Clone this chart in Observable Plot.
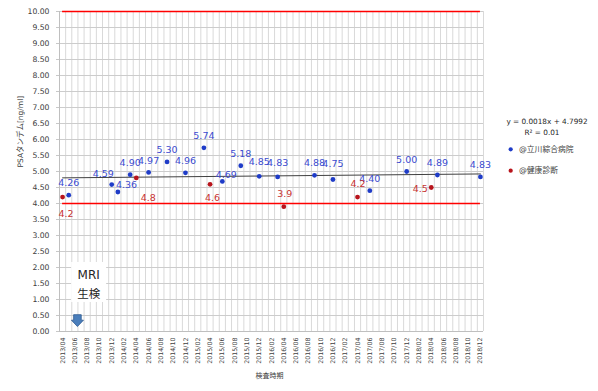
<!DOCTYPE html>
<html><head><meta charset="utf-8">
<script src="https://cdn.jsdelivr.net/npm/d3@7"></script>
<script src="https://cdn.jsdelivr.net/npm/@observablehq/plot@0.6"></script>
<style>
html,body{margin:0;padding:0;background:#fff;}
#chart{width:598px;height:391px;}
</style></head><body><div id="chart"></div>
<script>
// ---- data ----
const months = [
  "2013/04","2013/05","2013/06","2013/07","2013/08","2013/09","2013/10","2013/11","2013/12",
  "2014/01","2014/02","2014/03","2014/04","2014/05","2014/06","2014/07","2014/08","2014/09","2014/10","2014/11","2014/12",
  "2015/01","2015/02","2015/03","2015/04","2015/05","2015/06","2015/07","2015/08","2015/09","2015/10","2015/11","2015/12",
  "2016/01","2016/02","2016/03","2016/04","2016/05","2016/06","2016/07","2016/08","2016/09","2016/10","2016/11","2016/12",
  "2017/01","2017/02","2017/03","2017/04","2017/05","2017/06","2017/07","2017/08","2017/09","2017/10","2017/11","2017/12",
  "2018/01","2018/02","2018/03","2018/04","2018/05","2018/06","2018/07","2018/08","2018/09","2018/10","2018/11","2018/12"
];
const tickLabels = [
  "2013/04","2013/06","2013/08","2013/10","2013/12","2014/02","2014/04","2014/06","2014/08","2014/10","2014/12",
  "2015/02","2015/04","2015/06","2015/08","2015/10","2015/12","2016/02","2016/04","2016/06","2016/08","2016/10","2016/12",
  "2017/02","2017/04","2017/06","2017/08","2017/10","2017/12","2018/02","2018/04","2018/06","2018/08","2018/10","2018/12"
];
const yTicks = [0,0.5,1,1.5,2,2.5,3,3.5,4,4.5,5,5.5,6,6.5,7,7.5,8,8.5,9,9.5,10];

const seriesNames = ["@立川綜合病院", "@健康診断"];
const blueMonths = ["2013/05","2013/12","2014/01","2014/03","2014/06","2014/09","2014/12","2015/03","2015/06","2015/09","2015/12","2016/03","2016/09","2016/12","2017/06","2017/12","2018/05","2018/12"];
const blueValues = [4.26,4.59,4.36,4.90,4.97,5.30,4.96,5.74,4.69,5.18,4.85,4.83,4.88,4.75,4.40,5.00,4.89,4.83];
const redMonths = ["2013/04","2014/04","2015/04","2016/04","2017/04","2018/04"];
const redValues = [4.2,4.8,4.6,3.9,4.2,4.5];

const limitLines = [4, 10];
const trendSlope = 0.0018, trendIntercept = 4.7992;
const trendText = ["y = 0.0018x + 4.7992", "R² = 0.01"];
const yTitle = "PSAタンデム[ng/ml]";
const xTitle = "検査時期";
const noteLines = ["MRI", "生検"];
const noteMonth = "2013/08", noteValue = 1.5;
const arrowMonth = "2013/06", arrowTop = 0.51, arrowTip = 0.14;

// ---- styles ----
const BLUE_DOT = "#1f3cc8", BLUE_TXT = "#3b4bd0";
const RED_DOT = "#b8141c", RED_TXT = "#c83232";
const FONT = "'DejaVu Sans', 'Noto Sans CJK JP', sans-serif";
const blueNudge = {"2013/12":[-8.5,-11],"2014/01":[8.7,-7],"2015/06":[4,-6.5],"2016/12":[0,-16],"2015/12":[0,-14],"2016/03":[0,-14]};
const redNudge = {"2013/04":[3.5,17],"2014/04":[12,20],"2015/04":[2.5,14],"2016/04":[1,-13],"2017/04":[0.5,-13],"2018/04":[-11,1]};

const idx = m => months.indexOf(m) + 1;
const blue = blueMonths.map((m,i)=>({m, x: idx(m), v: blueValues[i]}));
const red = redMonths.map((m,i)=>({m, x: idx(m), v: redValues[i]}));
const boundaries = months.map((m,i)=>i+0.5).concat([months.length+0.5]);
const trendX = [1, months.length];

const blueLabels = blue.map(d => {
  const [dx, dy] = blueNudge[d.m] || [0, -12];
  return Plot.text([d], {x:"x", y:"v", text: d=>d.v.toFixed(2), dx, dy, fill: BLUE_TXT, fontSize: 9.5});
});
const redLabels = red.map(d => {
  const [dx, dy] = redNudge[d.m] || [0, 14];
  return Plot.text([d], {x:"x", y:"v", text: d=>String(d.v), dx, dy, fill: RED_TXT, fontSize: 9.5});
});

function noteMark(index, scales) {
  const g = d3.create("svg:g").attr("font-family", FONT);
  const cx = scales.x(idx(noteMonth)) + 2, cy = scales.y(noteValue);
  g.append("rect").attr("x", cx-17.5).attr("y", cy-21).attr("width", 35).attr("height", 40).attr("fill", "white");
  g.append("text").attr("x", cx).attr("y", cy-8).attr("text-anchor","middle").attr("dominant-baseline","central")
    .attr("font-size", 12).attr("fill", "#262626").text(noteLines[0]);
  g.append("text").attr("x", cx).attr("y", cy+11).attr("text-anchor","middle").attr("dominant-baseline","central")
    .attr("font-size", 11.5).attr("fill", "#262626").text(noteLines[1]);
  const ax = scales.x(idx(arrowMonth) + 0.5), y0 = scales.y(arrowTop), y1 = scales.y(arrowTip);
  const sw = 3.8, hw = 6, hy = y0 + 5.5;
  const p = `M${ax-sw},${y0}L${ax+sw},${y0}L${ax+sw},${hy}L${ax+hw},${hy}L${ax},${y1}L${ax-hw},${hy}L${ax-sw},${hy}Z`;
  g.append("path").attr("d", p).attr("fill", "#4a7ebb").attr("stroke", "#2f5a92").attr("stroke-width", 0.8);
  return g.node();
}

function legendMark() {
  const g = d3.create("svg:g").attr("font-family", FONT);
  g.append("text").attr("x", 547).attr("y", 121).attr("text-anchor","middle").attr("dominant-baseline","central")
    .attr("font-size", 7.3).attr("fill", "#262626").text(trendText[0]);
  g.append("text").attr("x", 542).attr("y", 132.5).attr("text-anchor","middle").attr("dominant-baseline","central")
    .attr("font-size", 7.3).attr("fill", "#262626").text(trendText[1]);
  const cols = [BLUE_DOT, RED_DOT];
  seriesNames.forEach((s,i)=>{
    const y = 149.3 + i*21.4;
    g.append("circle").attr("cx", 510.7).attr("cy", y).attr("r", 2.1).attr("fill", cols[i]);
    g.append("text").attr("x", 519).attr("y", y).attr("text-anchor","start").attr("dominant-baseline","central")
      .attr("font-size", 7.8).attr("fill", "#404040").text(s);
  });
  return g.node();
}

const chart = Plot.plot({
  width: 598, height: 391,
  marginLeft: 59, marginRight: 115, marginTop: 11, marginBottom: 60,
  style: {fontFamily: FONT, background: "white", overflow: "visible"},
  x: {type: "linear", domain: [0.5, months.length + 0.5]},
  y: {domain: [0, 10]},
  marks: [
    Plot.ruleX(boundaries, {stroke: "#d9d9d9", strokeWidth: 1}),
    Plot.ruleY(yTicks, {stroke: "#cccccc", strokeWidth: 1}),
    Plot.axisY({ticks: yTicks, tickFormat: d => d.toFixed(2), tickSize: 3, tickPadding: 7, fontSize: 7.7,
                stroke: "#c8c8c8", fill: "#404040", label: null}),
    Plot.axisX({ticks: tickLabels.map(idx), tickFormat: i => months[i-1], tickRotate: -90, tickSize: 0,
                tickPadding: 6, fontSize: 6.3, fill: "#404040", label: null}),
    Plot.ruleX([0.5], {stroke: "#bfbfbf"}),
    Plot.ruleY([0], {stroke: "#bfbfbf"}),
    Plot.ruleY(limitLines, {x1: 1, x2: months.length, stroke: "#ff0000", strokeWidth: 1.3}),
    Plot.line(trendX, {x: d => d, y: d => trendSlope*d + trendIntercept, stroke: "#404040", strokeWidth: 1}),
    Plot.dot(blue, {x: "x", y: "v", r: 2.4, fill: BLUE_DOT}),
    Plot.dot(red, {x: "x", y: "v", r: 2.4, fill: RED_DOT}),
    ...blueLabels,
    ...redLabels,
    noteMark,
    legendMark,
    Plot.text([yTitle], {frameAnchor: "left", dx: -39, dy: -4, rotate: -90, fontSize: 7.5, fill: "#404040"}),
    Plot.text([xTitle], {frameAnchor: "bottom", dx: -2, dy: 46, fontSize: 7, fill: "#404040"})
  ]
});
document.getElementById("chart").appendChild(chart);
</script></body></html>
